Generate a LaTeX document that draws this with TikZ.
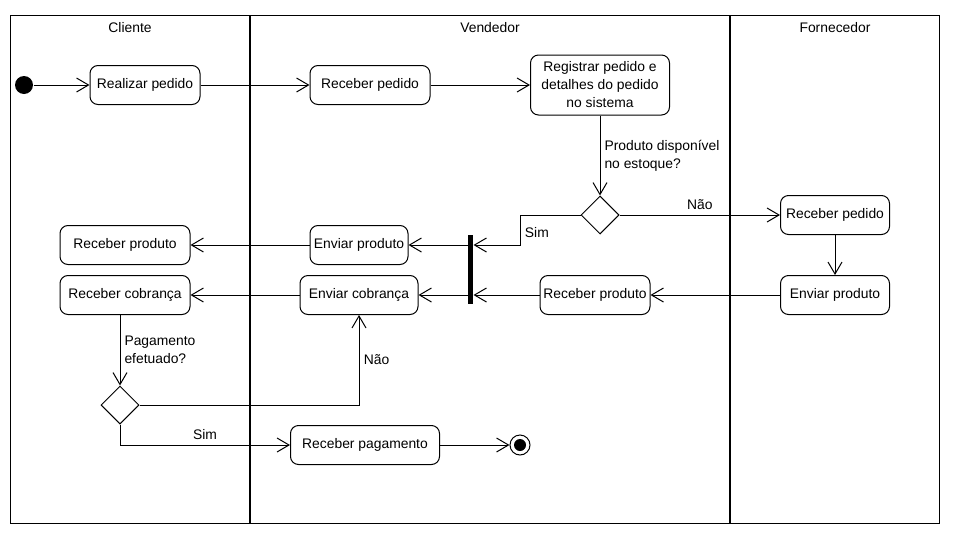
\documentclass[tikz,border=0pt]{standalone}
\usepackage{fontspec}
\setmainfont{Liberation Sans}
\usetikzlibrary{arrows.meta,shapes.geometric}
\tikzset{
  act/.style={draw, rounded corners=6pt, align=center, minimum height=39*0.75pt, inner sep=2pt},
  wd/.style={minimum width=#1*0.75pt},
  decisao/.style={draw, diamond, minimum width=38*0.75pt, minimum height=38*0.75pt, inner sep=0pt},
  seta/.style={-{Straight Barb[length=9pt,width=10.5pt]}},
  raia/.style={line width=1.5pt},
  rotulo/.style={align=left, inner sep=0pt}
}
\begin{document}
\begin{tikzpicture}[x=0.75pt,y=-0.75pt,line width=0.75pt,font=\fontsize{10.4}{13.5}\selectfont]
\useasboundingbox (0,0) rectangle (953,543);
% raias
\draw (10,15) rectangle (939,523);
\draw[raia] (250,15) -- (250,523);
\draw[raia] (730,15) -- (730,523);
\node (cliente) at (130,28) {Cliente};
\node (vendedor) at (490,28) {Vendedor};
\node (fornecedor) at (835,28) {Fornecedor};

% atividades
\node[circle, fill, minimum size=18*0.75pt, inner sep=0pt] (inicio) at (24,85) {};
\node[act, wd=110] (realizar) at (145,85) {Realizar pedido};
\node[act, wd=120] (recebePed) at (370,85) {Receber pedido};
\node[act, wd=139, minimum height=60*0.75pt] (registrar) at (600,85) {Registrar pedido e\\detalhes do pedido\\no sistema};
\node[decisao] (estoque) at (600,215) {};
\node[act, wd=109] (fornPed) at (835,215) {Receber pedido};
\node[act, wd=109] (fornEnv) at (835,295) {Enviar produto};
\node[act, wd=110] (vendRec) at (595,295) {Receber produto};
\node[fill, minimum width=5*0.75pt, minimum height=69*0.75pt, inner sep=0pt] (barra) at (470.5,269.5) {};
\node[act, wd=98] (enviaProd) at (359,245) {Enviar produto};
\node[act, wd=118] (enviaCob) at (359,295) {Enviar cobrança};
\node[act, wd=130] (recProd) at (125,245) {Receber produto};
\node[act, wd=130] (recCob) at (125,295) {Receber cobrança};
\node[decisao] (pago) at (120,405) {};
\node[act, wd=149] (recPag) at (365,445) {Receber pagamento};
\node[circle, draw, minimum size=20*0.75pt, inner sep=0pt] (fim) at (520,445) {};
\node[circle, fill, minimum size=12*0.75pt, inner sep=0pt] (fimPonto) at (fim) {};
\coordinate (dobraSim) at (520,215);

% fluxos
\draw[seta] (inicio) -- (realizar);
\draw[seta] (realizar) -- (recebePed);
\draw[seta] (recebePed) -- (registrar);
\draw[seta] (registrar) -- node[rotulo, right, xshift=3pt] {Produto disponível\\no estoque?} (estoque);
\draw[seta] (estoque) -- node[above] {Não} (fornPed);
\draw[seta] (fornPed) -- (fornEnv);
\draw[seta] (fornEnv) -- (vendRec);
\draw[seta] (vendRec) -- (vendRec -| barra.east);
\draw[seta] (estoque.west) -- (dobraSim) |- node[pos=0.3, right] {Sim} (barra.east |- enviaProd);
\draw[seta] (barra.west |- enviaProd) -- (enviaProd);
\draw[seta] (barra.west |- enviaCob) -- (enviaCob);
\draw[seta] (enviaProd) -- (recProd);
\draw[seta] (enviaCob) -- (recCob);
\draw[seta] (pago |- recCob.south) -- node[rotulo, right, xshift=3pt] {Pagamento\\efetuado?} (pago);
\draw[seta] (pago.east) -| node[pos=0.75, right] {Não} (enviaCob.south);
\draw[seta] (pago.south) |- node[pos=0.75, above] {Sim} (recPag);
\draw[seta] (recPag) -- (fim);
\end{tikzpicture}
\end{document}
